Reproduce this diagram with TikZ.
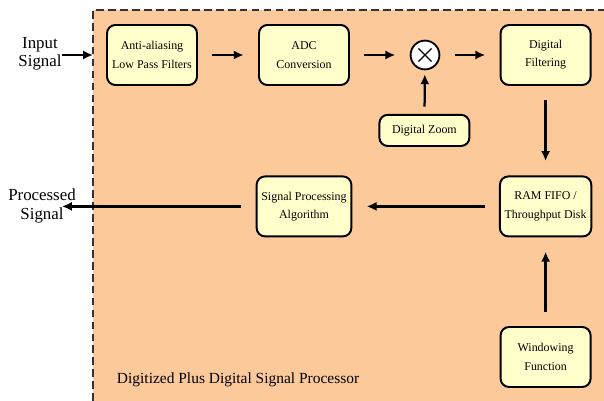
\documentclass[tikz,border=0pt]{standalone}
\usepackage{fontspec}
\setmainfont{Liberation Serif}
\usetikzlibrary{arrows.meta}

\definecolor{dspbg}{HTML}{FCC99B}
\definecolor{boxfill}{HTML}{FFFFCC}

\tikzset{
	block/.style={draw, line width=1.4pt, rounded corners=6pt, fill=boxfill,
		minimum width=2.25cm, minimum height=1.5cm, align=center,
		font=\fontsize{8.5}{13}\selectfont},
	flow/.style={-{Latex[length=7pt,width=6.5pt]}, line width=1.6pt,
		shorten <=0.36cm, shorten >=0.36cm},
	outer/.style={align=center, font=\fontsize{12}{13}\selectfont}
}

\begin{document}
\begin{tikzpicture}
	\useasboundingbox (0,0) rectangle (15.1,-10.025);
	% processor area
	\fill[dspbg] (2.325,-0.25) rectangle (15.1,-10.025);
	\draw[gray!40!black, line width=0.8pt, dash pattern=on 5.5pt off 3pt]
		(2.325,-10.025) -- (2.325,-0.25) -- (15.1,-0.25);

	\node (AA) at (3.8,-1.375) [block] {Anti-aliasing\\Low Pass Filters};
	\node (ADC) at (7.6,-1.375) [block] {ADC\\Conversion};
	\node (MUL) at (10.625,-1.375) [draw, circle, line width=1.3pt, fill=white, minimum size=0.72cm] {};
	\node (DF) at (13.64,-1.375) [block] {Digital\\Filtering};
	\node (DZ) at (10.61,-3.26) [block, minimum height=0.78cm] {Digital Zoom};
	\node (RAM) at (13.64,-5.16) [block] {RAM FIFO /\\Throughput Disk};
	\node (SPA) at (7.6,-5.16) [block] {Signal Processing\\Algorithm};
	\node (WF) at (13.64,-8.925) [block] {Windowing\\Function};

	\node (IN) at (1.0,-1.35) [outer] {Input\\Signal};
	\node (OUT) at (1.05,-5.15) [outer] {Processed\\Signal};
	\coordinate (EDGE) at (2.325,-1.375);
	\coordinate (OUTEND) at (1.55,-5.16);
	\node (TITLE) at (2.8,-9.5) [anchor=west, font=\fontsize{11}{13}\selectfont] {Digitized Plus Digital Signal Processor};

	\draw[line width=0.8pt, shorten <=0.15cm, shorten >=0.15cm] (MUL.north east) -- (MUL.south west);
	\draw[line width=0.8pt, shorten <=0.15cm, shorten >=0.15cm] (MUL.north west) -- (MUL.south east);

	\draw[flow, shorten <=0pt, shorten >=0pt] (1.55,-1.375) to (EDGE);
	\draw[flow] (AA) to (ADC);
	\draw[flow] (ADC) to (MUL);
	\draw[flow] (MUL) to (DF);
	\draw[flow, shorten <=0.18cm, shorten >=0.1cm] (DZ) to (MUL);
	\draw[flow] (DF) to (RAM);
	\draw[flow] (WF) to (RAM);
	\draw[flow] (RAM) to (SPA);
	\draw[flow, shorten >=0pt] (SPA) to (OUTEND);
\end{tikzpicture}
\end{document}
